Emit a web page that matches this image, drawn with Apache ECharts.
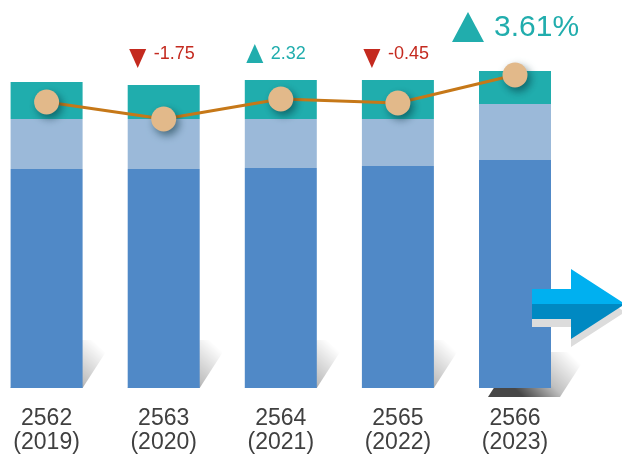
<!DOCTYPE html>
<html><head><meta charset="utf-8">
<script src="https://cdn.jsdelivr.net/npm/echarts@6/dist/echarts.min.js"></script>
<style>html,body{margin:0;padding:0;background:#fff}#c{width:622px;height:457px}</style>
</head><body><div id="c"></div>
<script>
const beYears = ['2562', '2563', '2564', '2565', '2566'];
const ceYears = ['2019', '2020', '2021', '2022', '2023'];
const baseValues = [219, 219, 220, 222, 228];
const middleValues = [50, 50, 49, 47, 56];
const topValues = [37, 34, 39, 39, 33];
const lineValues = [286, 269, 289, 285, 313];
const changeValues = [null, -1.75, 2.32, -0.45, 3.61];

const categories = beYears.map((b, i) => b + '\n(' + ceYears[i] + ')');
const FONT = '"Liberation Sans", Arial, sans-serif';
const TEAL = '#21adad', RED = '#c42a1f';
const HALF = 36;
const last = categories.length - 1;

const chart = echarts.init(document.getElementById('c'));

function shadowItem(params, api) {
  const i = api.value(0);
  const p = api.coord([i, 0]);
  const big = i === last;
  const sx = big ? 9 : 0, sy = big ? 9 : 0, h = big ? 45 : 48;
  const k = 0.645;
  const x0 = p[0] - HALF + sx, x1 = p[0] + HALF + sx, y0 = p[1] + sy;
  return {
    type: 'polygon',
    shape: { points: [[x0, y0], [x1, y0], [x1 + h * k, y0 - h], [x0 + h * k, y0 - h]] },
    style: {
      fill: new echarts.graphic.LinearGradient(0.35, 1, 0.8, 0, [
        { offset: 0, color: 'rgba(0,0,0,0.72)' },
        { offset: 0.45, color: 'rgba(0,0,0,0.25)' },
        { offset: 1, color: 'rgba(0,0,0,0)' }
      ])
    }
  };
}

function annotItem(params, api) {
  const i = params.dataIndex;
  const v = changeValues[i];
  if (v == null) return null;
  const cx = api.coord([i, 0])[0];
  const big = i === last;
  const up = v >= 0;
  const color = up ? TEAL : RED;
  let tri, tx, ty, fs;
  if (big) {
    const tc = cx - 47;
    tri = [[tc - 16, 42], [tc + 16, 42], [tc, 12]];
    tx = cx - 21; ty = 28; fs = 30;
  } else {
    const tc = cx - 26;
    tri = up ? [[tc - 8.5, 63], [tc + 8.5, 63], [tc, 44]] : [[tc - 8.5, 49], [tc + 8.5, 49], [tc, 68]];
    tx = cx - 10; ty = 54.5; fs = 18;
  }
  return {
    type: 'group',
    children: [
      { type: 'polygon', shape: { points: tri }, style: { fill: color } },
      {
        type: 'text',
        style: {
          x: tx, y: ty, text: v.toFixed(2) + (big ? '%' : ''),
          fill: color, font: fs + 'px ' + FONT,
          textAlign: 'left', textVerticalAlign: 'middle', verticalAlign: 'middle'
        }
      }
    ]
  };
}

const arrowUpper = '#00b0f0', arrowLower = '#0089c2', arrowShadow = '#dcdcdc';
function arrowParts(dy, up, low) {
  return [
    { type: 'polygon', z: 100, shape: { points: [[532, 289 + dy], [571, 289 + dy], [571, 269 + dy], [625, 304 + dy], [532, 304 + dy]] }, style: { fill: up } },
    { type: 'polygon', z: 100, shape: { points: [[532, 304 + dy], [625, 304 + dy], [571, 339 + dy], [571, 319 + dy], [532, 319 + dy]] }, style: { fill: low } }
  ];
}

chart.setOption({
  animation: false,
  grid: { left: 46.6, right: 107, top: 0, bottom: 69 },
  xAxis: {
    type: 'category', data: categories, boundaryGap: false,
    axisLine: { show: false }, axisTick: { show: false },
    axisLabel: { color: '#404040', fontSize: 23, lineHeight: 24, fontFamily: FONT, margin: 19 }
  },
  yAxis: { type: 'value', min: 0, max: 388, show: false },
  series: [
    { type: 'custom', renderItem: shadowItem, data: categories.map((c, i) => [i, 0]), z: 1, silent: true, clip: false },
    { type: 'bar', stack: 's', data: baseValues, barWidth: 72, clip: false, itemStyle: { color: '#5089c7' }, z: 2 },
    { type: 'bar', stack: 's', data: middleValues, barWidth: 72, clip: false, itemStyle: { color: '#9bb9d9' }, z: 2 },
    { type: 'bar', stack: 's', data: topValues, barWidth: 72, clip: false, itemStyle: { color: '#20adad' }, z: 2 },
    {
      type: 'line', data: lineValues, z: 5, clip: false,
      symbol: 'circle', symbolSize: 25,
      lineStyle: { color: '#c67818', width: 3 },
      itemStyle: { color: '#e2b98a', shadowColor: 'rgba(0,40,50,0.55)', shadowBlur: 8, shadowOffsetX: 3, shadowOffsetY: 4 }
    },
    { type: 'custom', renderItem: annotItem, data: changeValues.map((v, i) => [i, 0]), z: 6, silent: true, clip: false }
  ],
  graphic: { elements: [].concat(arrowParts(8, arrowShadow, arrowShadow), arrowParts(0, arrowUpper, arrowLower)) }
});
</script></body></html>
